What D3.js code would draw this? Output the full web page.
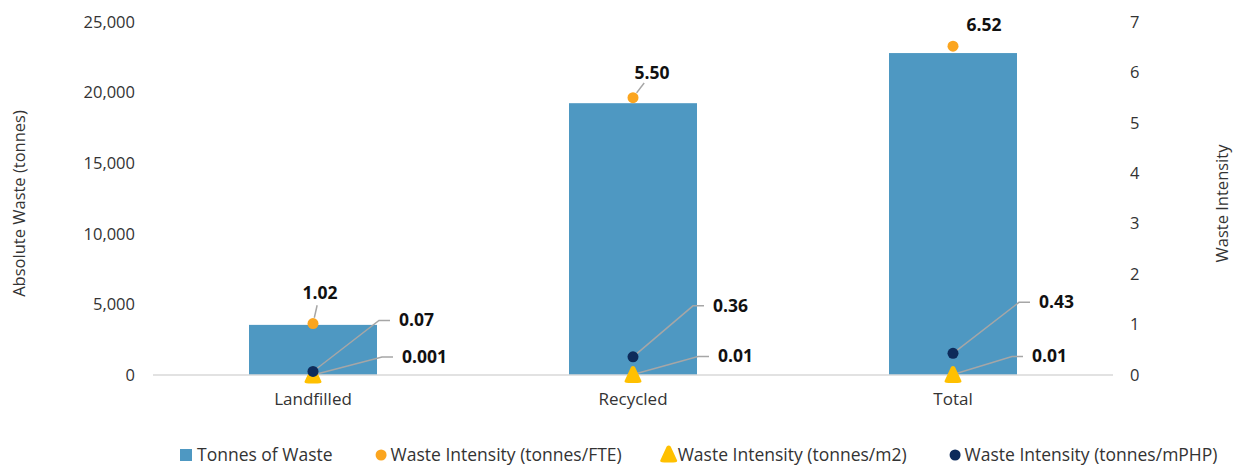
<!DOCTYPE html>
<html>
<head>
<meta charset="utf-8">
<script src="https://cdn.jsdelivr.net/npm/d3@7"></script>
<style>
  html, body { margin: 0; padding: 0; background: #fff; }
  svg { display: block; font-family: "Open Sans", "Noto Sans", sans-serif; }
</style>
</head>
<body>
<svg id="chart" width="1233" height="466"></svg>
<script>
// Waste by stream
const categories = ["Landfilled", "Recycled", "Total"];
const tonnesOfWaste = [3550, 19250, 22800];
const intensityFTE = [1.02, 5.50, 6.52];
const intensityM2 = [0.001, 0.01, 0.01];
const intensityMPHP = [0.07, 0.36, 0.43];
const fteLabels = ["1.02", "5.50", "6.52"];
const m2Labels = ["0.001", "0.01", "0.01"];
const mphpLabels = ["0.07", "0.36", "0.43"];
const leftTicks = [0, 5000, 10000, 15000, 20000, 25000];
const rightTicks = [0, 1, 2, 3, 4, 5, 6, 7];
const legendNames = [
  "Tonnes of Waste",
  "Waste Intensity (tonnes/FTE)",
  "Waste Intensity (tonnes/m2)",
  "Waste Intensity (tonnes/mPHP)"
];

const colors = {
  bar: "#4E98C2",
  fte: "#FBA51F",
  m2: "#FFC000",
  mphp: "#0D2B5B",
  text: "#333333",
  axis: "#D9D9D9",
  leader: "#A6A6A6"
};

const svg = d3.select("#chart");
const plot = { left: 153, right: 1113, top: 22, bottom: 375 };

const x = d3.scaleBand().domain(categories).range([plot.left, plot.right]).paddingInner(0.6).paddingOuter(0.3);
const yL = d3.scaleLinear().domain([0, 25000]).range([plot.bottom, plot.top]);
const yR = d3.scaleLinear().domain([0, 7]).range([plot.bottom, plot.top]);
const cx = c => x(c) + x.bandwidth() / 2;

// Bars
svg.append("g").selectAll("rect").data(categories).join("rect")
  .attr("x", c => x(c))
  .attr("width", x.bandwidth())
  .attr("y", (c, i) => yL(tonnesOfWaste[i]))
  .attr("height", (c, i) => yL(0) - yL(tonnesOfWaste[i]))
  .attr("fill", colors.bar);

// Left axis
const leftAxis = svg.append("g")
  .attr("transform", `translate(${plot.left},0)`)
  .call(d3.axisLeft(yL).tickValues(leftTicks).tickFormat(d3.format(",")).tickSize(0).tickPadding(18));
leftAxis.select(".domain").remove();
leftAxis.selectAll("text").attr("fill", colors.text).style("font-size", "16.5px").style("font-family", "Open Sans");

// Right axis
const rightAxis = svg.append("g")
  .attr("transform", `translate(${plot.right},0)`)
  .call(d3.axisRight(yR).tickValues(rightTicks).tickFormat(d3.format("d")).tickSize(0).tickPadding(17));
rightAxis.select(".domain").remove();
rightAxis.selectAll("text").attr("fill", colors.text).style("font-size", "16.5px").style("font-family", "Open Sans");

// Category axis with baseline
svg.append("line")
  .attr("x1", plot.left).attr("x2", plot.right)
  .attr("y1", yL(0)).attr("y2", yL(0))
  .attr("stroke", colors.axis).attr("stroke-width", 1.5);
const bottomAxis = svg.append("g")
  .attr("transform", `translate(0,${plot.bottom})`)
  .call(d3.axisBottom(x).tickSize(0).tickPadding(18));
bottomAxis.select(".domain").remove();
bottomAxis.selectAll("text").attr("fill", colors.text).style("font-size", "17px").style("font-family", "Open Sans");

// Axis titles
svg.append("text")
  .attr("transform", `translate(25,${(plot.top + plot.bottom) / 2 + 5}) rotate(-90)`)
  .attr("text-anchor", "middle")
  .attr("fill", colors.text)
  .style("font-size", "16.5px")
  .text("Absolute Waste (tonnes)");
svg.append("text")
  .attr("transform", `translate(1228,${(plot.top + plot.bottom) / 2 + 5}) rotate(-90)`)
  .attr("text-anchor", "middle")
  .attr("fill", colors.text)
  .style("font-size", "16.5px")
  .text("Waste Intensity");

// Rounded triangle marker path
function triPath(w, h) {
  const r = 3;
  const p = d3.path();
  p.moveTo(-2, -h / 2 + 1);
  p.quadraticCurveTo(0, -h / 2 - 1, 2, -h / 2 + 1);
  p.lineTo(w / 2 - 1, h / 2 - r);
  p.quadraticCurveTo(w / 2 + 1, h / 2, w / 2 - r * 1.5, h / 2);
  p.lineTo(-w / 2 + r * 1.5, h / 2);
  p.quadraticCurveTo(-w / 2 - 1, h / 2, -w / 2 + 1, h / 2 - r);
  p.closePath();
  return p.toString();
}

const leaderG = svg.append("g");
const labelG = svg.append("g");

// Per-label offsets (px) for the FTE value labels
const fteOffset = [[7, -31], [19, -25], [31, -21]];

// FTE labels with short leaders
categories.forEach((c, i) => {
  const px = cx(c), py = yR(intensityFTE[i]);
  const lx = px + fteOffset[i][0], ly = py + fteOffset[i][1];
  if (i < 2) {
    const dx = lx - px, dy = ly - py;
    const len = Math.hypot(dx, dy);
    const s0 = 6 / len, s1 = (len - 13) / len;
    leaderG.append("line")
      .attr("x1", px + dx * s0).attr("y1", py + dy * s0)
      .attr("x2", px + dx * s1).attr("y2", py + dy * s1)
      .attr("stroke", colors.leader).attr("stroke-width", 1.5);
  }
  labelG.append("text")
    .attr("x", lx).attr("y", ly + 6)
    .attr("text-anchor", "middle")
    .style("font-weight", "bold").style("font-size", "17.5px")
    .attr("fill", "#111")
    .text(fteLabels[i]);
});

// Elbow leaders for the m2 and mPHP labels
function elbowLabel(px, py, lx, ly, text) {
  leaderG.append("path")
    .attr("d", `M${px},${py}L${lx - 20},${ly}L${lx - 9},${ly}`)
    .attr("fill", "none")
    .attr("stroke", colors.leader).attr("stroke-width", 1.5);
  labelG.append("text")
    .attr("x", lx).attr("y", ly + 6)
    .style("font-weight", "bold").style("font-size", "17.5px")
    .attr("fill", "#111")
    .text(text);
}
const mphpDx = [86, 80, 86], m2Dx = [89, 85, 79];
categories.forEach((c, i) => {
  const px = cx(c);
  const pyM = yR(intensityMPHP[i]);
  elbowLabel(px, pyM, px + mphpDx[i], pyM - 51, mphpLabels[i]);
  const pyA = yR(intensityM2[i]);
  elbowLabel(px, pyA, px + m2Dx[i], pyA - 18, m2Labels[i]);
});

// Markers
const markG = svg.append("g");
markG.selectAll("path.m2").data(categories).join("path")
  .attr("class", "m2")
  .attr("d", triPath(18, 17))
  .attr("transform", (c, i) => `translate(${cx(c)},${yR(intensityM2[i])})`)
  .attr("fill", colors.m2);
markG.selectAll("circle.fte").data(categories).join("circle")
  .attr("class", "fte")
  .attr("cx", c => cx(c)).attr("cy", (c, i) => yR(intensityFTE[i]))
  .attr("r", 5.5).attr("fill", colors.fte);
markG.selectAll("circle.mphp").data(categories).join("circle")
  .attr("class", "mphp")
  .attr("cx", c => cx(c)).attr("cy", (c, i) => yR(intensityMPHP[i]))
  .attr("r", 5.5).attr("fill", colors.mphp);

// Legend
const legend = svg.append("g").attr("transform", "translate(180,455)");
let lxPos = 0;
const gaps = [0, 43, 38, 43];
legendNames.forEach((name, i) => {
  lxPos += gaps[i];
  const g = legend.append("g").attr("transform", `translate(${lxPos},0)`);
  let markW;
  if (i === 0) {
    g.append("rect").attr("x", 0).attr("y", -6).attr("width", 12).attr("height", 12).attr("fill", colors.bar);
    markW = 17;
  } else if (i === 1) {
    g.append("circle").attr("cx", 5.5).attr("cy", 0).attr("r", 5.5).attr("fill", colors.fte);
    markW = 15;
  } else if (i === 2) {
    g.append("path").attr("d", triPath(18, 17)).attr("transform", "translate(9,-1)").attr("fill", colors.m2);
    markW = 18;
  } else {
    g.append("circle").attr("cx", 5.5).attr("cy", 0).attr("r", 5.5).attr("fill", colors.mphp);
    markW = 15;
  }
  const t = g.append("text")
    .attr("x", markW).attr("y", 6)
    .attr("fill", colors.text)
    .style("font-size", "17.5px")
    .text(name);
  lxPos += markW + t.node().getComputedTextLength();
});
</script>
</body>
</html>
